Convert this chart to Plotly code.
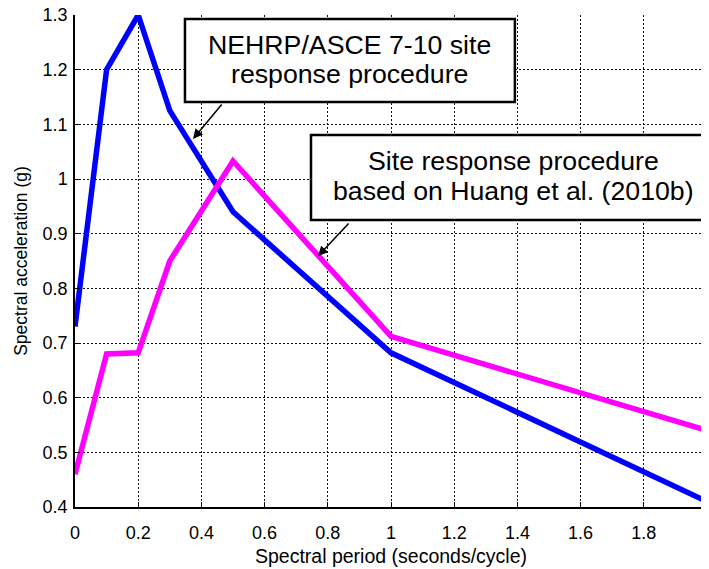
import plotly.graph_objects as go

period = [0.0, 0.1, 0.2, 0.3, 0.5, 1.0, 2.0]
nehrp_sa = [0.73, 1.20, 1.30, 1.125, 0.94, 0.682, 0.41]
huang_sa = [0.46, 0.68, 0.682, 0.85, 1.033, 0.712, 0.54]

x_ticks = [0, 0.2, 0.4, 0.6, 0.8, 1.0, 1.2, 1.4, 1.6, 1.8, 2.0]
y_ticks = [0.4, 0.5, 0.6, 0.7, 0.8, 0.9, 1.0, 1.1, 1.2, 1.3]

label1 = ["NEHRP/ASCE 7-10 site", "response procedure"]
label2 = ["Site response procedure", "based on Huang et al. (2010b)"]

FONT = "Arial, Liberation Sans, Helvetica, sans-serif"

fig = go.Figure()
fig.add_trace(go.Scatter(x=period, y=nehrp_sa, mode="lines",
                         line=dict(color="#0000FF", width=5.5), showlegend=False))
fig.add_trace(go.Scatter(x=period, y=huang_sa, mode="lines",
                         line=dict(color="#FF00FF", width=5.5), showlegend=False))

axis_common = dict(showgrid=True, gridcolor="#111111", griddash="2px,2px", gridwidth=1,
                   showline=True, linecolor="black", linewidth=1.5, mirror=False,
                   ticks="inside", ticklen=5, tickcolor="black", zeroline=False,
                   automargin=False, ticklabeloverflow="allow",
                   tickfont=dict(family=FONT, size=18, color="black"))

fig.update_xaxes(range=[0, 2], tickvals=x_ticks,
                 ticktext=[f"{v:g}" for v in x_ticks], ticklabelstandoff=9,
                 title=dict(text="Spectral period (seconds/cycle)",
                            font=dict(family=FONT, size=19.5, color="black"), standoff=7),
                 **axis_common)
fig.update_yaxes(range=[0.4, 1.3], tickvals=y_ticks,
                 ticktext=[f"{v:g}" for v in y_ticks], ticklabelstandoff=2,
                 title=dict(text="Spectral acceleration (g)",
                            font=dict(family=FONT, size=17.5, color="black"), standoff=10),
                 **axis_common)

shapes = [
    dict(type="rect", xref="paper", yref="paper", x0=0.174, x1=0.696, y0=0.823, y1=0.992,
         line=dict(color="black", width=2.5), fillcolor="white", layer="above"),
    dict(type="rect", xref="paper", yref="paper", x0=0.3734, x1=1.016, y0=0.5833, y1=0.756,
         line=dict(color="black", width=2.5), fillcolor="white", layer="above"),
]

annotations = []
for txt, yy in zip(label1, [0.939, 0.880]):
    annotations.append(dict(text=txt, xref="paper", yref="paper", x=0.4343, y=yy,
                            xanchor="center", yanchor="middle", showarrow=False,
                            font=dict(family=FONT, size=26.7, color="black")))
for txt, yy in zip(label2, [0.7033, 0.6423]):
    annotations.append(dict(text=txt, xref="paper", yref="paper", x=0.6946, y=yy,
                            xanchor="center", yanchor="middle", showarrow=False,
                            font=dict(family=FONT, size=26.7, color="black")))
annotations.append(dict(text="", x=0.3734, y=1.0732, xref="x", yref="y",
                        ax=30, ay=-36, showarrow=True, arrowhead=2, arrowsize=1.3,
                        arrowwidth=1.5, arrowcolor="black", standoff=0))
annotations.append(dict(text="", x=0.769, y=0.859, xref="x", yref="y",
                        ax=32, ay=-34, showarrow=True, arrowhead=2, arrowsize=1.3,
                        arrowwidth=1.5, arrowcolor="black", standoff=0))

# page body adds an 8px offset; margins compensate so the plot area lands at 75..707 x 15..507
fig.update_layout(width=709, height=569, margin=dict(l=67, r=10, t=7, b=70),
                  paper_bgcolor="white", plot_bgcolor="white",
                  shapes=shapes, annotations=annotations,
                  font=dict(family=FONT, color="black"))

fig.write_html("out.html")
